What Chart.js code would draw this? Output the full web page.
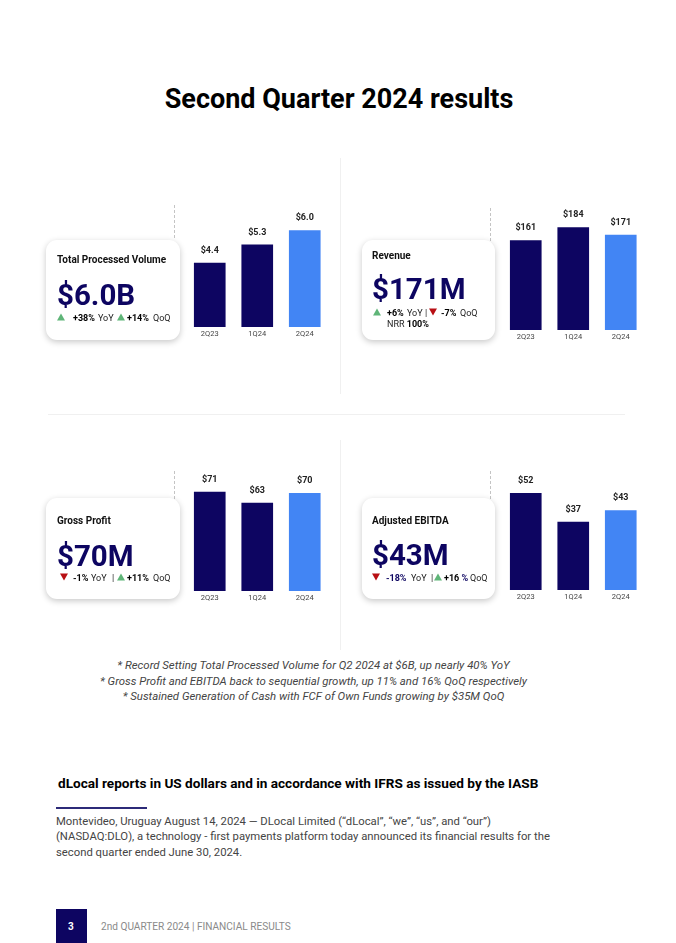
<!DOCTYPE html>
<html>
<head>
<meta charset="utf-8">
<script src="https://cdn.jsdelivr.net/npm/chart.js@4"></script>
<style>
  html, body { margin: 0; padding: 0; background: #fff; }
  body { width: 676px; height: 943px; position: relative; overflow: hidden; font-family: Roboto, sans-serif; color: #111; }
  .t { position: absolute; white-space: nowrap; transform: translateY(calc(-50% + 1px)); line-height: 1; }
  .card { position: absolute; width: 134px; height: 100px; background: #fff; border-radius: 11px; box-shadow: 0 2px 6px rgba(0,0,0,.22); }
  .wrap { position: absolute; width: 142.5px; height: 146px; }
  .line { position: absolute; background: #f0f0f0; }
  .dash { position: absolute; width: 0; height: 33px; border-left: 1px dashed #c4c4c4; }
  .name { font-size: 10px; font-weight: 700; }
  .big { font-size: 29.5px; font-weight: 700; color: #0d0561; }
  .st { font-size: 9px; color: #222; }
  .st b { color: #000; }
  .up, .dn { position: absolute; width: 0; height: 0; border-left: 4px solid transparent; border-right: 4px solid transparent; transform: translateY(-50%); }
  .up { border-bottom: 7.5px solid #5fb578; }
  .dn { border-top: 7.5px solid #b80f14; }
  .note { position: absolute; left: 0; width: 627px; text-align: center; font-size: 11.4px; line-height: 1; font-style: italic; color: #444; transform: translateY(calc(-50% + 1px)); }
</style>
</head>
<body>
<div class="t" style="left:0;width:678px;text-align:center;top:98px;font-size:27px;font-weight:700;color:#000">Second Quarter 2024 results</div>

<div class="line" style="left:340px;top:158px;width:1px;height:236px"></div>
<div class="line" style="left:340px;top:440px;width:1px;height:210px"></div>
<div class="line" style="left:48px;top:414px;width:577px;height:1px"></div>
<div class="dash" style="left:174px;top:205px"></div>
<div class="dash" style="left:490px;top:208px"></div>
<div class="dash" style="left:174px;top:471px"></div>
<div class="dash" style="left:490px;top:471px"></div>

<div class="wrap" style="left:185.75px;top:196.7px"><canvas id="tpv"></canvas></div>
<div class="wrap" style="left:501.75px;top:200px"><canvas id="revenue"></canvas></div>
<div class="wrap" style="left:185.75px;top:461.3px"><canvas id="grossProfit"></canvas></div>
<div class="wrap" style="left:501.75px;top:460.3px"><canvas id="ebitda"></canvas></div>

<div class="card" style="left:46px;top:240px"></div>
<div class="t name" style="left:57px;top:259px">Total Processed Volume</div>
<div class="t big" style="left:57px;top:295px">$6.0B</div>
<div class="up" style="left:57px;top:317px"></div>
<div class="t st" style="left:73px;top:317px"><b>+38%</b></div>
<div class="t st" style="left:98px;top:317px">YoY</div>
<div class="up" style="left:117px;top:317px"></div>
<div class="t st" style="left:127px;top:317px"><b>+14%</b></div>
<div class="t st" style="left:153px;top:317px">QoQ</div>

<div class="card" style="left:362px;top:240px;width:133px"></div>
<div class="t name" style="left:372px;top:255px">Revenue</div>
<div class="t big" style="left:372px;top:289px">$171M</div>
<div class="up" style="left:373px;top:312px"></div>
<div class="t st" style="left:387px;top:312px"><b>+6%</b></div>
<div class="t st" style="left:407px;top:312px">YoY</div>
<div class="t st" style="left:425px;top:312px">|</div>
<div class="dn" style="left:429px;top:312px"></div>
<div class="t st" style="left:441px;top:312px"><b>-7%</b></div>
<div class="t st" style="left:460px;top:312px">QoQ</div>
<div class="t st" style="left:387px;top:323px">NRR <b>100%</b></div>

<div class="card" style="left:46px;top:498px;height:101px"></div>
<div class="t name" style="left:57px;top:520px">Gross Profit</div>
<div class="t big" style="left:57px;top:556px">$70M</div>
<div class="dn" style="left:60px;top:577px"></div>
<div class="t st" style="left:73px;top:577px"><b>-1%</b></div>
<div class="t st" style="left:91px;top:577px">YoY</div>
<div class="t st" style="left:112px;top:577px">|</div>
<div class="up" style="left:117px;top:577px"></div>
<div class="t st" style="left:127px;top:577px"><b>+11%</b></div>
<div class="t st" style="left:153px;top:577px">QoQ</div>

<div class="card" style="left:362px;top:498px;width:133px;height:101px"></div>
<div class="t name" style="left:372px;top:520px">Adjusted EBITDA</div>
<div class="t big" style="left:372px;top:555px">$43M</div>
<div class="dn" style="left:372px;top:577px"></div>
<div class="t st" style="left:386px;top:577px"><b style="color:#0d0561">-18%</b></div>
<div class="t st" style="left:411px;top:577px">YoY</div>
<div class="t st" style="left:431px;top:577px">|</div>
<div class="up" style="left:434px;top:577px"></div>
<div class="t st" style="left:444px;top:577px"><b>+16</b> <b style="color:#0d0561">%</b></div>
<div class="t st" style="left:470px;top:577px">QoQ</div>

<div class="note" style="top:665px">* Record Setting Total Processed Volume for Q2 2024 at $6B, up nearly 40% YoY</div>
<div class="note" style="top:681px">* Gross Profit and EBITDA back to sequential growth, up 11% and 16% QoQ respectively</div>
<div class="note" style="top:696px">* Sustained Generation of Cash with FCF of Own Funds growing by $35M QoQ</div>

<div class="t" style="left:58px;top:783px;font-size:13.6px;font-weight:700;color:#000">dLocal reports in US dollars and in accordance with IFRS as issued by the IASB</div>
<div style="position:absolute;left:56px;top:807px;width:91px;height:2px;background:#2c2a78"></div>
<div class="t" style="left:56px;top:821px;font-size:11.3px;color:#444">Montevideo, Uruguay August 14, 2024 — DLocal Limited (“dLocal”, “we”, “us”, and “our”)</div>
<div class="t" style="left:56px;top:836px;font-size:11.3px;color:#444">(NASDAQ:DLO), a technology - first payments platform today announced its financial results for the</div>
<div class="t" style="left:56px;top:852px;font-size:11.3px;color:#444">second quarter ended June 30, 2024.</div>

<div style="position:absolute;left:56px;top:909px;width:31px;height:34px;background:#0d0561"></div>
<div class="t" style="left:68px;top:926px;font-size:10px;font-weight:700;color:#fff">3</div>
<div class="t" style="left:101px;top:926px;font-size:10.1px;color:#8a8a8a">2nd QUARTER 2024 | FINANCIAL RESULTS</div>

<script>
const quarters = ['2Q23', '1Q24', '2Q24'];
const tpvValues = [4.4, 5.3, 6.0];
const revenueValues = [161, 184, 171];
const grossProfitValues = [71, 63, 70];
const ebitdaValues = [52, 37, 43];
const navy = '#0d0561';
const blue = '#4285f4';

// the source bars sit on a cut-off axis, so each chart has its own range
function drawBars(id, values, prefix, digits, yMin, yMax) {
  new Chart(document.getElementById(id), {
    type: 'bar',
    data: {
      labels: quarters,
      datasets: [{
        data: values,
        backgroundColor: [navy, navy, blue],
        barThickness: 31,
      }],
    },
    options: {
      responsive: true,
      maintainAspectRatio: false,
      animation: false,
      layout: { padding: 0 },
      plugins: { legend: { display: false }, tooltip: { enabled: false } },
      scales: {
        x: {
          grid: { display: false, drawTicks: false, tickLength: 0 },
          border: { display: false },
          afterFit: scale => { scale.height = 16; },
          ticks: { color: '#444', padding: 3, maxRotation: 0, font: { family: 'Roboto', size: 7.5 } },
        },
        y: { display: false, min: yMin, max: yMax },
      },
    },
    plugins: [{
      id: 'valueLabels',
      afterDatasetsDraw(chart) {
        const ctx = chart.ctx;
        ctx.save();
        ctx.font = '700 9px Roboto';
        ctx.fillStyle = '#222';
        ctx.textAlign = 'center';
        ctx.textBaseline = 'middle';
        chart.getDatasetMeta(0).data.forEach((bar, i) => {
          ctx.fillText(prefix + values[i].toFixed(digits), bar.x, bar.y - 12.5);
        });
        ctx.restore();
      },
    }],
  });
}

drawBars('tpv', tpvValues, '$', 1, 1.24, 7.66);
drawBars('revenue', revenueValues, '$', 0, 3, 233);
drawBars('grossProfit', grossProfitValues, '$', 0, 0, 93.26);
drawBars('ebitda', ebitdaValues, '$', 0, 1.2, 69.6);
</script>
</body>
</html>
